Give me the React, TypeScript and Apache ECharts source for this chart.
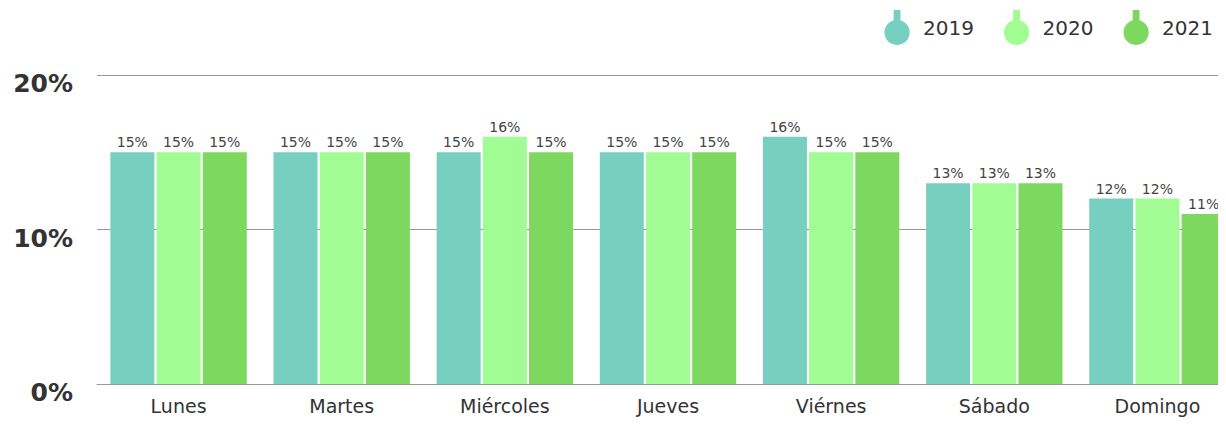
import React, { useEffect, useRef } from "react";
import * as echarts from "echarts";

const categories = ["Lunes", "Martes", "Miércoles", "Jueves", "Viérnes", "Sábado", "Domingo"];
const seriesNames = ["2019", "2020", "2021"];
const values2019 = [15, 15, 15, 15, 16, 13, 12];
const values2020 = [15, 15, 16, 15, 15, 13, 12];
const values2021 = [15, 15, 15, 15, 15, 13, 11];
const colors = ["#76cfbf", "#a0fc93", "#7cd85e"];

const FONT = "'DejaVu Sans', 'Noto Sans', sans-serif";
const pin = "path://M9.5 0 L16.5 0 L16.5 10.5 A13 13 0 1 1 9.5 10.5 Z";

export default function App() {
  const ref = useRef<HTMLDivElement>(null);
  useEffect(() => {
    if (!ref.current) return;
    const chart = echarts.init(ref.current, undefined, { renderer: "svg" });
    const all = [values2019, values2020, values2021];
    chart.setOption({
      animation: false,
      textStyle: { fontFamily: FONT },
      legend: {
        top: 5,
        right: 21,
        itemWidth: 26,
        itemHeight: 35,
        itemGap: 30,
        icon: pin,
        data: seriesNames,
        textStyle: { fontSize: 20, color: "#333", fontFamily: FONT, padding: [8, 0, 0, 8] },
      },
      grid: { left: 97, right: 0, top: 75, bottom: 41, containLabel: false },
      xAxis: {
        type: "category",
        data: categories,
        axisLine: { lineStyle: { color: "#999" } },
        axisTick: { show: false },
        axisLabel: { fontSize: 19, color: "#333", margin: 12, fontFamily: FONT },
      },
      yAxis: {
        type: "value",
        min: 0,
        max: 20,
        interval: 10,
        axisLine: { show: false },
        axisTick: { show: false },
        splitLine: { lineStyle: { color: "#999" } },
        axisLabel: {
          formatter: "{value}%",
          fontSize: 25,
          fontWeight: "bold",
          color: "#333",
          margin: 24,
          fontFamily: FONT,
          verticalAlign: "top",
          padding: [-4, 0, 0, 0],
        },
      },
      series: seriesNames.map((name, i) => ({
        name,
        type: "bar",
        data: all[i],
        barWidth: 44,
        barGap: "5%",
        itemStyle: { color: colors[i] },
        label: {
          show: true,
          position: "top",
          distance: 3,
          formatter: "{c}%",
          fontSize: 14,
          color: "#444",
          fontFamily: FONT,
        },
      })),
    });
    return () => chart.dispose();
  }, []);
  return (
    <div style={{ width: 1226, height: 425, margin: -8, overflow: "hidden", position: "relative" }}>
      <div ref={ref} style={{ width: 1239, height: 425 }} />
    </div>
  );
}
